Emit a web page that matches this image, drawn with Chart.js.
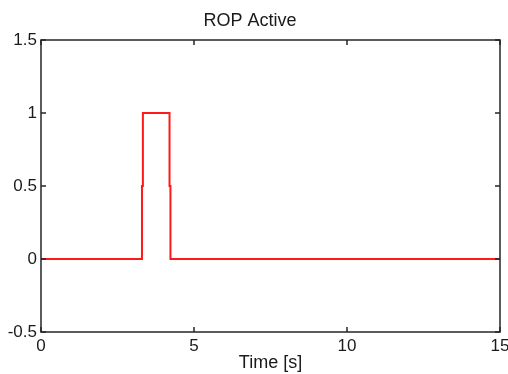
<!DOCTYPE html>
<html>
<head>
<meta charset="utf-8">
<title>ROP Active</title>
<script src="https://cdn.jsdelivr.net/npm/chart.js@4/dist/chart.umd.min.js"></script>
<style>
    body { margin: 0; background: #fff; }
    canvas { display: block; }
</style>
</head>
<body>
<canvas id="ropChart" width="508" height="374"></canvas>
<script>
// Step signal (time in s, ROP flag)
const timeValues = [0, 3.3, 3.3, 3.33, 3.33, 4.2, 4.2, 4.23, 4.23, 15];
const ropValues  = [0, 0,   0.5, 0.5,  1,    1,   0.5, 0.5,  0,    0];

const xTicks = [0, 5, 10, 15];
const yTicks = [-0.5, 0, 0.5, 1, 1.5];

const AXIS_COLOR = '#262626';
const TEXT_COLOR = '#1a1a1a';
const FONT = 'Liberation Sans, Arial, sans-serif';

// MATLAB style box with inward tick marks on all four sides
const boxTicksPlugin = {
    id: 'boxTicks',
    afterDraw(chart) {
        const { ctx, chartArea: a, scales } = chart;
        const len = 5;
        ctx.save();
        ctx.strokeStyle = AXIS_COLOR;
        ctx.lineWidth = 1.5;
        ctx.strokeRect(a.left, a.top, a.right - a.left, a.bottom - a.top);
        ctx.beginPath();
        xTicks.forEach(v => {
            const px = scales.x.getPixelForValue(v);
            ctx.moveTo(px, a.bottom); ctx.lineTo(px, a.bottom - len);
            ctx.moveTo(px, a.top);    ctx.lineTo(px, a.top + len);
        });
        yTicks.forEach(v => {
            const py = scales.y.getPixelForValue(v);
            ctx.moveTo(a.left, py);  ctx.lineTo(a.left + len, py);
            ctx.moveTo(a.right, py); ctx.lineTo(a.right - len, py);
        });
        ctx.stroke();
        ctx.restore();
    }
};

new Chart(document.getElementById('ropChart').getContext('2d'), {
    type: 'line',
    data: {
        datasets: [{
            label: 'ROP Active',
            data: timeValues.map((t, i) => ({ x: t, y: ropValues[i] })),
            borderColor: '#ff1a1a',
            borderWidth: 2,
            pointRadius: 0,
            tension: 0,
            fill: false
        }]
    },
    options: {
        responsive: false,
        animation: false,
        layout: { padding: { left: 0, right: 8, top: 0, bottom: 0 } },
        plugins: {
            legend: { display: false },
            tooltip: { enabled: false },
            title: {
                display: true,
                text: 'ROP Active',
                color: TEXT_COLOR,
                font: { family: FONT, size: 18, weight: 'normal' },
                padding: { top: 10, bottom: 8.4 }
            }
        },
        scales: {
            x: {
                type: 'linear',
                min: 0,
                max: 15,
                afterBuildTicks: s => { s.ticks = xTicks.map(v => ({ value: v })); },
                afterFit: s => { s.height = 42; s.paddingLeft = 0; s.paddingRight = 0; },
                grid: { display: false, drawTicks: false },
                border: { display: false },
                ticks: {
                    color: TEXT_COLOR,
                    padding: 4,
                    maxRotation: 0,
                    font: { family: FONT, size: 17 }
                },
                title: {
                    display: true,
                    text: 'Time [s]',
                    color: TEXT_COLOR,
                    padding: 0,
                    font: { family: FONT, size: 18 }
                }
            },
            y: {
                type: 'linear',
                min: -0.5,
                max: 1.5,
                afterBuildTicks: s => { s.ticks = yTicks.map(v => ({ value: v })); },
                afterFit: s => { s.width = 41; },
                grid: { display: false, drawTicks: false },
                border: { display: false },
                ticks: {
                    color: TEXT_COLOR,
                    padding: 4,
                    font: { family: FONT, size: 17 },
                    callback: v => String(v)
                }
            }
        }
    },
    plugins: [boxTicksPlugin]
});
</script>
</body>
</html>
